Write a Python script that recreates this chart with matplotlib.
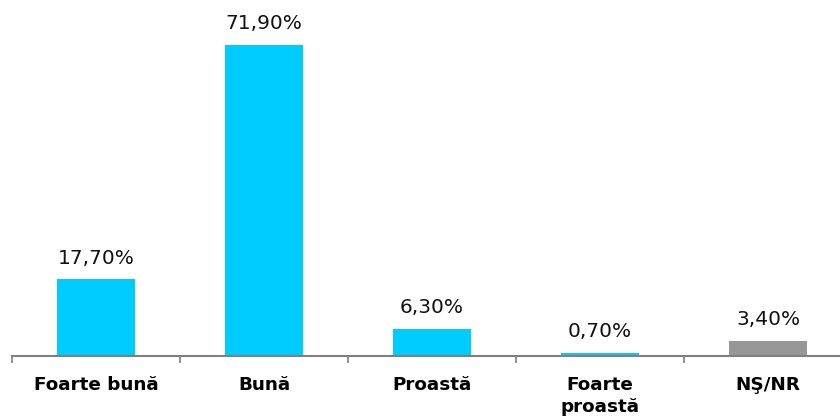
import matplotlib.pyplot as plt
import numpy as np

categories = ['Foarte bună', 'Bună', 'Proastă', 'Foarte\nproastă', 'NŞ/NR']
values = [17.7, 71.9, 6.3, 0.7, 3.4]
labels = ['17,70%', '71,90%', '6,30%', '0,70%', '3,40%']
colors = ['#00CCFF', '#00CCFF', '#00CCFF', '#00CCFF', '#969696']

plt.rcParams['font.family'] = ['DejaVu Sans']

fig = plt.figure(figsize=(8.4, 4.2), dpi=100)
ax = fig.add_axes([12 / 840, 64 / 420, 840 / 840, 346 / 420])

x = np.arange(len(categories))
ax.bar(x, values, width=0.465, color=colors)

for xi, v, lab in zip(x, values, labels):
    ax.annotate(lab, (xi, v), xytext=(0, 8.5), textcoords='offset points',
                ha='center', va='bottom', fontsize=14.5, color='#111111')

ax.set_xlim(-0.5, 4.5)
ax.set_ylim(0, 80)
ax.set_yticks([])

# ticks between categories, labels at the centres
ax.set_xticks(np.arange(-0.5, 5, 1))
ax.set_xticklabels([])
ax.tick_params(axis='x', which='major', direction='out', length=5, width=1.2, color='#808080')
ax.set_xticks(x, minor=True)
ax.set_xticklabels(categories, minor=True, fontsize=13.2, fontweight='bold',
                   linespacing=1.25, va='top')
ax.tick_params(axis='x', which='minor', length=0, pad=14.5)

for s in ['top', 'right', 'left']:
    ax.spines[s].set_visible(False)
ax.spines['bottom'].set_color('#808080')
ax.spines['bottom'].set_linewidth(1.5)

fig.savefig('out.png', dpi=100)
